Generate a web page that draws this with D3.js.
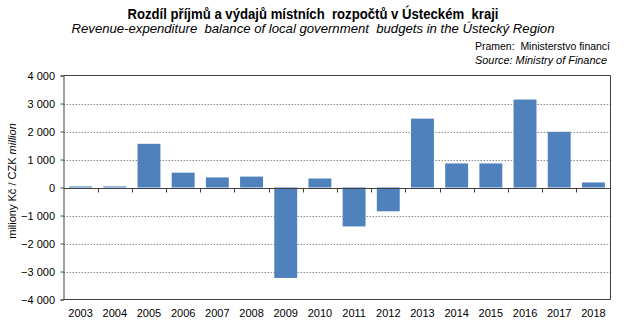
<!DOCTYPE html>
<html><head><meta charset="utf-8">
<script src="https://cdn.jsdelivr.net/npm/d3@7"></script>
<style>
body{margin:0;background:#fff;}
svg{display:block;font-family:Arial,"Liberation Sans",sans-serif;}
text{white-space:pre;}
</style></head>
<body>
<svg id="c" width="624" height="332"></svg>
<script>
const years = ["2003","2004","2005","2006","2007","2008","2009","2010","2011","2012","2013","2014","2015","2016","2017","2018"];
const balance = [40, 40, 1560, 530, 360, 390, -3230, 320, -1390, -850, 2460, 860, 860, 3140, 1990, 180];
const yTicks = [-4000,-3000,-2000,-1000,0,1000,2000,3000,4000];
const titleCz = "Rozdíl příjmů a výdajů místních  rozpočtů v Ústeckém  kraji";
const titleEn = "Revenue-expenditure  balance of local government  budgets in the Ústecký Region";
const sourceCz = "Pramen:  Ministerstvo financí";
const sourceEn = "Source: Ministry of Finance";
const yLabelCz = "miliony Kč / CZK ";
const yLabelEn = "million";

const svg = d3.select("#c");
const L = 63.5, R = 610.5, T = 75.5, B = 299.5;
const x = d3.scaleBand().domain(years).range([L, R]).paddingInner(0.33).paddingOuter(0.165);
const y = d3.scaleLinear().domain([-4000, 4000]).range([B, T]);
const fmt = v => d3.format(",")(v).replace(",", " ");
const axisCol = "#404040";

// titles
svg.append("text").attr("x", 313).attr("y", 19).attr("text-anchor","middle")
  .attr("font-size", 14).attr("font-weight","bold").attr("fill","#000")
  .attr("textLength", 371).attr("lengthAdjust","spacingAndGlyphs").text(titleCz);
svg.append("text").attr("x", 313).attr("y", 33).attr("text-anchor","middle")
  .attr("font-size", 12.5).attr("font-style","italic").attr("fill","#000")
  .attr("textLength", 483).attr("lengthAdjust","spacingAndGlyphs").text(titleEn);
svg.append("text").attr("x", 475).attr("y", 50).attr("font-size", 10).attr("fill","#000")
  .attr("textLength", 135).attr("lengthAdjust","spacingAndGlyphs").text(sourceCz);
svg.append("text").attr("x", 475).attr("y", 64).attr("font-size", 10).attr("font-style","italic").attr("fill","#000")
  .attr("textLength", 132).attr("lengthAdjust","spacingAndGlyphs").text(sourceEn);

// gridlines
svg.append("g").selectAll("line").data(yTicks.filter(v => v !== 0 && Math.abs(v) !== 4000)).join("line")
  .attr("x1", L).attr("x2", R).attr("y1", d => Math.round(y(d)) + 0.5).attr("y2", d => Math.round(y(d)) + 0.5)
  .attr("stroke", "#8c8c8c").attr("stroke-dasharray", "1.5,1.5");

// bars
svg.append("g").selectAll("rect").data(years.map((yr, i) => ({yr, v: balance[i]}))).join("rect")
  .attr("x", d => x(d.yr)).attr("width", x.bandwidth())
  .attr("y", d => y(Math.max(0, d.v))).attr("height", d => Math.abs(y(d.v) - y(0)))
  .attr("fill", "#4f81bd");

// y axis
const yAxis = d3.axisLeft(y).tickValues(yTicks).tickSize(3).tickFormat(fmt);
const gy = svg.append("g").attr("transform", `translate(${L},0)`).call(yAxis);
gy.select(".domain").attr("stroke", axisCol);
gy.selectAll(".tick line").attr("stroke", axisCol);
gy.selectAll(".tick text").attr("font-size", 11).attr("fill", "#000").attr("x", -8.5)
  .attr("font-family", "Arial, 'Liberation Sans', sans-serif");

// frame top/right/bottom
svg.append("path").attr("d", `M${L},${T}H${R}V${B}H${L}`).attr("fill","none").attr("stroke", axisCol);

// x axis at zero
const x0 = Math.round(y(0)) + 0.5;
svg.append("line").attr("x1", L).attr("x2", R).attr("y1", x0).attr("y2", x0).attr("stroke", axisCol);
const bounds = years.slice(1).map(yr => x(yr) - x.step() * x.paddingInner() / 2);
svg.append("g").selectAll("line").data(bounds).join("line")
  .attr("x1", d => Math.round(d) + 0.5).attr("x2", d => Math.round(d) + 0.5)
  .attr("y1", x0).attr("y2", x0 + 4).attr("stroke", axisCol);
svg.append("g").selectAll("text").data(years).join("text")
  .attr("x", d => x(d) + x.bandwidth() / 2).attr("y", 317).attr("text-anchor", "middle")
  .attr("font-size", 11).attr("fill", "#000").text(d => d);

// y label
const yl = svg.append("text").attr("transform", "translate(16,181) rotate(-90)")
  .attr("text-anchor", "middle").attr("font-size", 11).attr("fill", "#000");
yl.append("tspan").text(yLabelCz);
yl.append("tspan").attr("font-style", "italic").text(yLabelEn);
</script>
</body></html>
